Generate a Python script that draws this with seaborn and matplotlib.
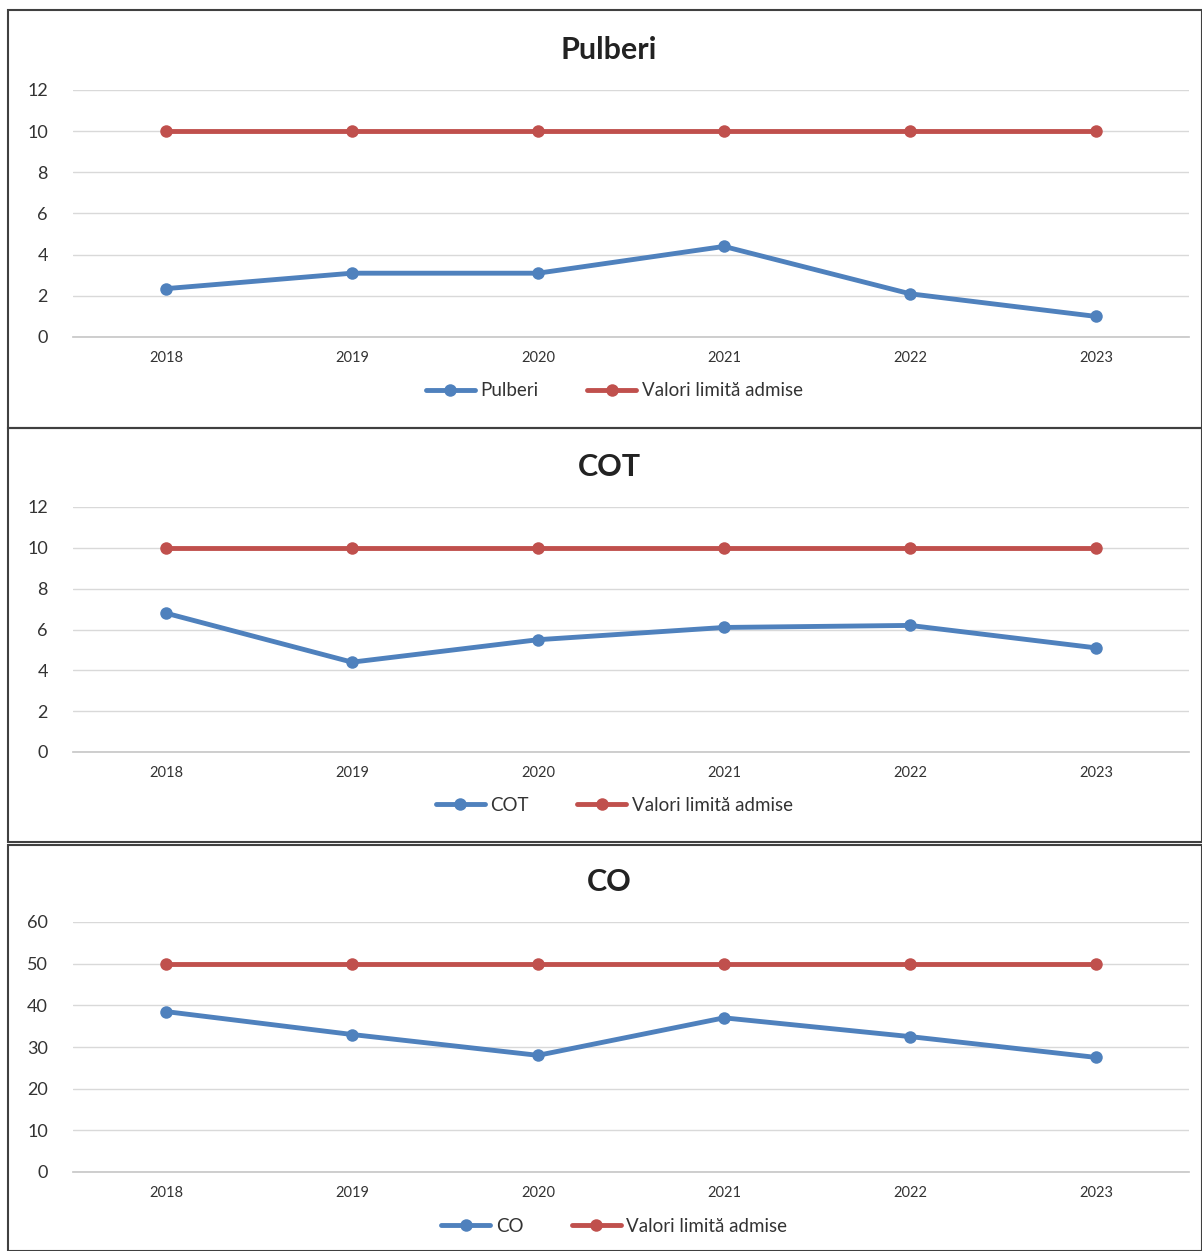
import pandas as pd
import numpy as np
import matplotlib
matplotlib.use('Agg')
import matplotlib.pyplot as plt
import seaborn as sns
from matplotlib.patches import Rectangle

# data
years = ['2018', '2019', '2020', '2021', '2022', '2023']
pulberi = [2.35, 3.1, 3.1, 4.4, 2.1, 1.0]
pulberi_limit = [10, 10, 10, 10, 10, 10]
cot = [6.8, 4.4, 5.5, 6.1, 6.2, 5.1]
cot_limit = [10, 10, 10, 10, 10, 10]
co = [38.5, 33, 28, 37, 32.5, 27.5]
co_limit = [50, 50, 50, 50, 50, 50]
limit_label = 'Valori limită admise'

blue = '#4F81BD'
red = '#C0504D'

sns.set_theme(style='white')
plt.rcParams['font.family'] = ['Lato', 'DejaVu Sans']

fig = plt.figure(figsize=(12.02, 12.51), dpi=100)
W, H = 1202, 1251

panels = [
    ('Pulberi', pulberi, pulberi_limit, 12, 2, (90, 337), (10, 428)),
    ('COT', cot, cot_limit, 12, 2, (507, 752), (428, 842)),
    ('CO', co, co_limit, 60, 10, (922, 1172), (845, 1251)),
]

for name, vals, lim, ymax, step, (ytop, ybot), (ptop, pbot) in panels:
    # panel border
    fig.patches.append(Rectangle((8 / W, 1 - pbot / H), (W - 8) / W, (pbot - ptop) / H,
                                 transform=fig.transFigure, fill=False,
                                 edgecolor='#404040', linewidth=1.5))
    ax = fig.add_axes([73 / W, 1 - ybot / H, (1189 - 73) / W, (ybot - ytop) / H])
    df = pd.DataFrame({
        'An': years * 2,
        'Valoare': vals + lim,
        'Serie': [name] * len(years) + [limit_label] * len(years),
    })
    sns.lineplot(data=df, x='An', y='Valoare', hue='Serie', marker='o', ax=ax,
                 palette=[blue, red], linewidth=3.5, markersize=9,
                 markeredgewidth=0, sort=False)
    ax.set_xlim(-0.5, len(years) - 0.5)
    ax.set_ylim(0, ymax)
    ax.set_yticks(np.arange(0, ymax + step, step))
    ax.grid(axis='y', color='#D9D9D9', linewidth=1)
    ax.set_axisbelow(True)
    for s in ax.spines.values():
        s.set_visible(False)
    ax.spines['bottom'].set_visible(True)
    ax.spines['bottom'].set_color('#C8C8C8')
    ax.tick_params(axis='y', labelsize=13, pad=18, colors='#333333', length=0)
    ax.tick_params(axis='x', labelsize=10.5, pad=10, colors='#333333', length=0)
    ax.set_xlabel('')
    ax.set_ylabel('')
    fig.text(609 / W, 1 - (ytop - 40) / H, name, ha='center', va='center',
             fontsize=22, fontweight='bold', color='#222222')
    handles, labels = ax.get_legend_handles_labels()
    ax.legend(handles, labels, loc='upper center', bbox_to_anchor=(0.485, -0.115),
              ncol=2, frameon=False, fontsize=13.5, handlelength=2.6,
              columnspacing=2.6, handletextpad=0.3, labelcolor='#333333')

fig.savefig('out.png', dpi=100, facecolor='white')
